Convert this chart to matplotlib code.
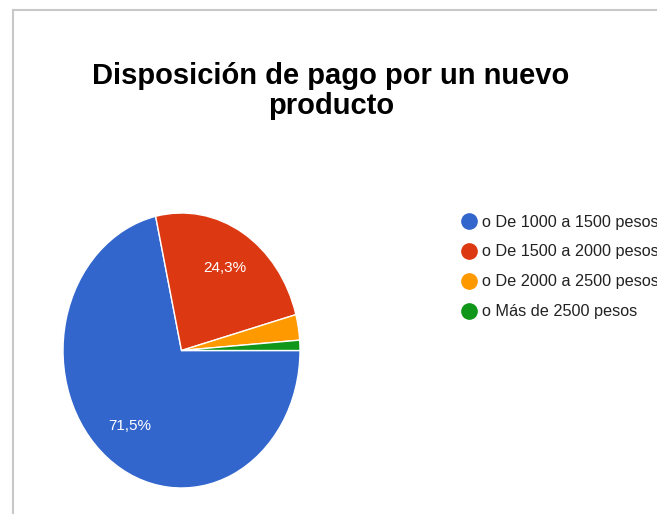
import matplotlib
matplotlib.use("Agg")
import matplotlib.pyplot as plt
from matplotlib.lines import Line2D

plt.rcParams['font.family'] = ['Liberation Sans', 'DejaVu Sans']

# survey answers, share of responses (%)
labels = ['o De 1000 a 1500 pesos', 'o De 1500 a 2000 pesos',
          'o De 2000 a 2500 pesos', 'o Más de 2500 pesos']
shares = [71.5, 24.3, 3.0, 1.2]
colors = ['#3366cc', '#dc3912', '#ff9900', '#109618']
title = 'Disposición de pago por un nuevo\nproducto'

fig = plt.figure(figsize=(6.57, 5.14), dpi=100)

# thin grey frame on the left and top
fig.add_artist(Line2D([13/657, 13/657], [0, 1 - 10/514], color='#c8c8c8', lw=1.5))
fig.add_artist(Line2D([13/657, 1], [1 - 10/514, 1 - 10/514], color='#c8c8c8', lw=1.5))

fig.text(331/657, 1 - 91/514, title, ha='center', va='center',
         fontsize=21, fontweight='bold', color='#000000', linespacing=1.05)


def pct_label(p):
    if p < 5:
        return ''
    return ('%.1f%%' % p).replace('.', ',')


ax = fig.add_axes([63/657, 26/514, 237/657, 275/514])
wedges, texts, autotexts = ax.pie(
    shares, colors=colors, startangle=0, counterclock=False,
    autopct=pct_label, pctdistance=0.7,
    wedgeprops=dict(edgecolor='white', linewidth=1),
    textprops=dict(color='white', fontsize=11))
ax.set_aspect('auto')
ax.set_xlim(-1, 1)
ax.set_ylim(-1, 1)

handles = [Line2D([], [], marker='o', linestyle='none', markersize=11,
                  markerfacecolor=c, markeredgecolor=c) for c in colors]
fig.legend(handles, labels, loc='upper left', bbox_to_anchor=(454/657, 1 - 208/514),
           frameon=False, fontsize=11.7, labelspacing=0.92, handletextpad=0.3,
           handlelength=1.0, labelcolor='#222222', borderaxespad=0)

fig.savefig('out.png', dpi=100)
